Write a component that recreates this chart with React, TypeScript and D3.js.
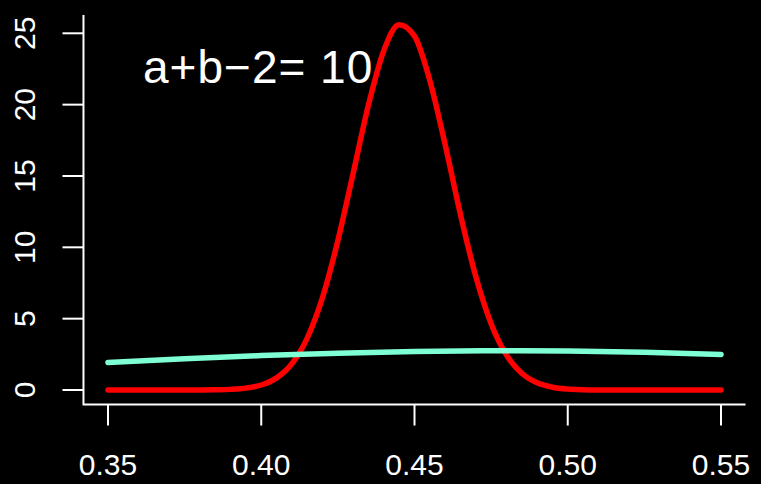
import React, { useEffect, useRef } from 'react';
import * as d3 from 'd3';

// posterior (red) – at 0.005 steps
const xRed = [
  0.35, 0.355, 0.36, 0.365, 0.37, 0.375, 0.38, 0.385, 0.39, 0.395,
  0.40, 0.405, 0.41, 0.415, 0.42, 0.425, 0.43, 0.435, 0.44, 0.445,
  0.45, 0.455, 0.46, 0.465, 0.47, 0.475, 0.48, 0.485, 0.49, 0.495,
  0.50, 0.505, 0.51, 0.515, 0.52, 0.525, 0.53, 0.535, 0.54, 0.545, 0.55,
];
const yRed = [
  0, 0, 0, 0, 0.0002, 0.001, 0.004, 0.014, 0.044, 0.13,
  0.35, 0.85, 1.84, 3.64, 6.49, 10.47, 15.2, 20.0, 23.8, 25.6,
  24.8, 21.7, 17.2, 12.3, 7.95, 4.65, 2.45, 1.17, 0.5, 0.197,
  0.069, 0.022, 0.006, 0.0016, 0.0004, 0, 0, 0, 0, 0, 0,
];

// prior (aquamarine)
const xPrior = [0.35, 0.375, 0.40, 0.425, 0.45, 0.475, 0.50, 0.525, 0.55];
const yPrior = [1.93, 2.19, 2.41, 2.58, 2.70, 2.75, 2.73, 2.64, 2.49];

const xTicks = [0.35, 0.4, 0.45, 0.5, 0.55];
const yTicks = [0, 5, 10, 15, 20, 25];
const label = 'a+b\u22122= 10';

const W = 761;
const H = 484;
const FONT = '"Liberation Sans", Arial, Helvetica, sans-serif';

const App = () => {
  const svgRef = useRef<SVGSVGElement>(null);

  useEffect(() => {
    const svg = d3.select(svgRef.current);
    svg.selectAll('*').remove();

    const x = d3.scaleLinear().domain([0.35, 0.55]).range([108, 721]);
    const y = d3.scaleLinear().domain([0, 25]).range([390, 33.3]);

    // R-style 4% padding for the plot region
    const xLo = x(0.35 - 0.008);
    const xHi = x(0.55 + 0.008);
    const yBottom = y(-1.02);
    const yTop = 15;

    svg.append('rect').attr('width', W).attr('height', H).attr('fill', '#000');

    const line = d3.line<[number, number]>()
      .x(d => x(d[0]))
      .y(d => y(d[1]))
      .curve(d3.curveMonotoneX);

    svg.append('path')
      .datum(xRed.map((v, i) => [v, yRed[i]] as [number, number]))
      .attr('d', line)
      .attr('fill', 'none')
      .attr('stroke', '#ff0000')
      .attr('stroke-width', 5.5)
      .attr('stroke-linecap', 'round')
      .attr('stroke-linejoin', 'round');

    svg.append('path')
      .datum(xPrior.map((v, i) => [v, yPrior[i]] as [number, number]))
      .attr('d', line)
      .attr('fill', 'none')
      .attr('stroke', '#7fffd4')
      .attr('stroke-width', 5.5)
      .attr('stroke-linecap', 'round')
      .attr('stroke-linejoin', 'round');

    // bty = "l"
    svg.append('path')
      .attr('d', `M${xLo},${yTop}V${yBottom}H${xHi}`)
      .attr('fill', 'none')
      .attr('stroke', '#fff')
      .attr('stroke-width', 2);

    const gx = svg.append('g');
    gx.selectAll('line')
      .data(xTicks)
      .enter()
      .append('line')
      .attr('x1', d => x(d))
      .attr('x2', d => x(d))
      .attr('y1', yBottom)
      .attr('y2', yBottom + 21)
      .attr('stroke', '#fff')
      .attr('stroke-width', 2);
    gx.selectAll('text')
      .data(xTicks)
      .enter()
      .append('text')
      .attr('x', d => x(d))
      .attr('y', 475)
      .attr('text-anchor', 'middle')
      .attr('fill', '#fff')
      .style('font-family', FONT)
      .style('font-size', '30px')
      .text(d => d.toFixed(2));

    const gy = svg.append('g');
    gy.selectAll('line')
      .data(yTicks)
      .enter()
      .append('line')
      .attr('x1', xLo)
      .attr('x2', xLo - 21)
      .attr('y1', d => y(d))
      .attr('y2', d => y(d))
      .attr('stroke', '#fff')
      .attr('stroke-width', 2);
    gy.selectAll('text')
      .data(yTicks)
      .enter()
      .append('text')
      .attr('transform', d => `translate(35,${y(d)}) rotate(-90)`)
      .attr('text-anchor', 'middle')
      .attr('fill', '#fff')
      .style('font-family', FONT)
      .style('font-size', '30px')
      .text(d => String(d));

    svg.append('text')
      .attr('x', 143)
      .attr('y', 83)
      .attr('fill', '#fff')
      .style('font-family', FONT)
      .style('font-size', '46px')
      .style('letter-spacing', '1px')
      .text(label);
  }, []);

  return (
    <svg
      ref={svgRef}
      width={W}
      height={H}
      style={{ position: 'absolute', left: 0, top: 0, display: 'block' }}
    />
  );
};

export default App;
